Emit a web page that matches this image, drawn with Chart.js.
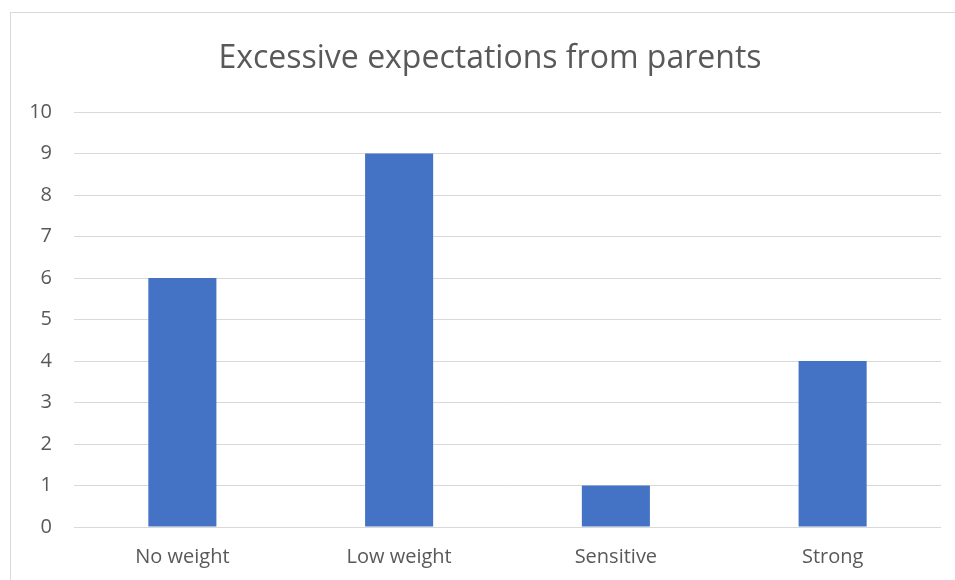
<!DOCTYPE html>
<html>
<head>
<meta charset="utf-8">
<script src="https://cdn.jsdelivr.net/npm/chart.js@4"></script>
<style>
  body { margin: 0; background: #fff; overflow: hidden; }
  #box {
    position: absolute; left: 10px; top: 12px;
    width: 960px; height: 600px;
    border: 1px solid #d9d9d9; box-sizing: border-box;
  }
  #wrap { position: absolute; left: 11px; top: 13px; width: 944px; height: 567px; }
</style>
</head>
<body>
<div id="box"></div>
<div id="wrap"><canvas id="chart"></canvas></div>
<script>
const categories = ['No weight', 'Low weight', 'Sensitive', 'Strong'];
const counts = [6, 9, 1, 4];
const chartTitle = 'Excessive expectations from parents';

const grey = '#595959';
const fontFamily = "'Open Sans', sans-serif";

// title is centred on the whole frame, not on the plot, so draw it ourselves
const titlePlugin = {
  id: 'frameTitle',
  afterDraw(chart) {
    const c = chart.ctx;
    c.save();
    c.font = `32px ${fontFamily}`;
    c.fillStyle = grey;
    c.textAlign = 'center';
    c.textBaseline = 'middle';
    c.fillText(chartTitle, 479, 46);
    c.restore();
  }
};

const ctx = document.getElementById('chart').getContext('2d');
new Chart(ctx, {
  type: 'bar',
  data: {
    labels: categories,
    datasets: [{
      data: counts,
      backgroundColor: '#4472c4',
      categoryPercentage: 1,
      barPercentage: 0.314
    }]
  },
  options: {
    responsive: true,
    maintainAspectRatio: false,
    animation: false,
    layout: { padding: { left: 0, right: 14, top: 99, bottom: 0 } },
    plugins: {
      legend: { display: false },
      tooltip: { enabled: false },
      title: { display: false }
    },
    scales: {
      x: {
        grid: { display: false, drawTicks: false },
        border: { display: false },
        ticks: { color: grey, font: { family: fontFamily, size: 20 }, padding: 18 },
        afterFit: (scale) => { scale.height = 53; }
      },
      y: {
        min: 0,
        max: 10,
        ticks: { stepSize: 1, color: grey, font: { family: fontFamily, size: 20 }, padding: 22 },
        grid: { color: '#d9d9d9', lineWidth: 1, drawTicks: false },
        border: { display: false },
        afterFit: (scale) => { scale.width = 63; }
      }
    }
  },
  plugins: [titlePlugin]
});
</script>
</body>
</html>
